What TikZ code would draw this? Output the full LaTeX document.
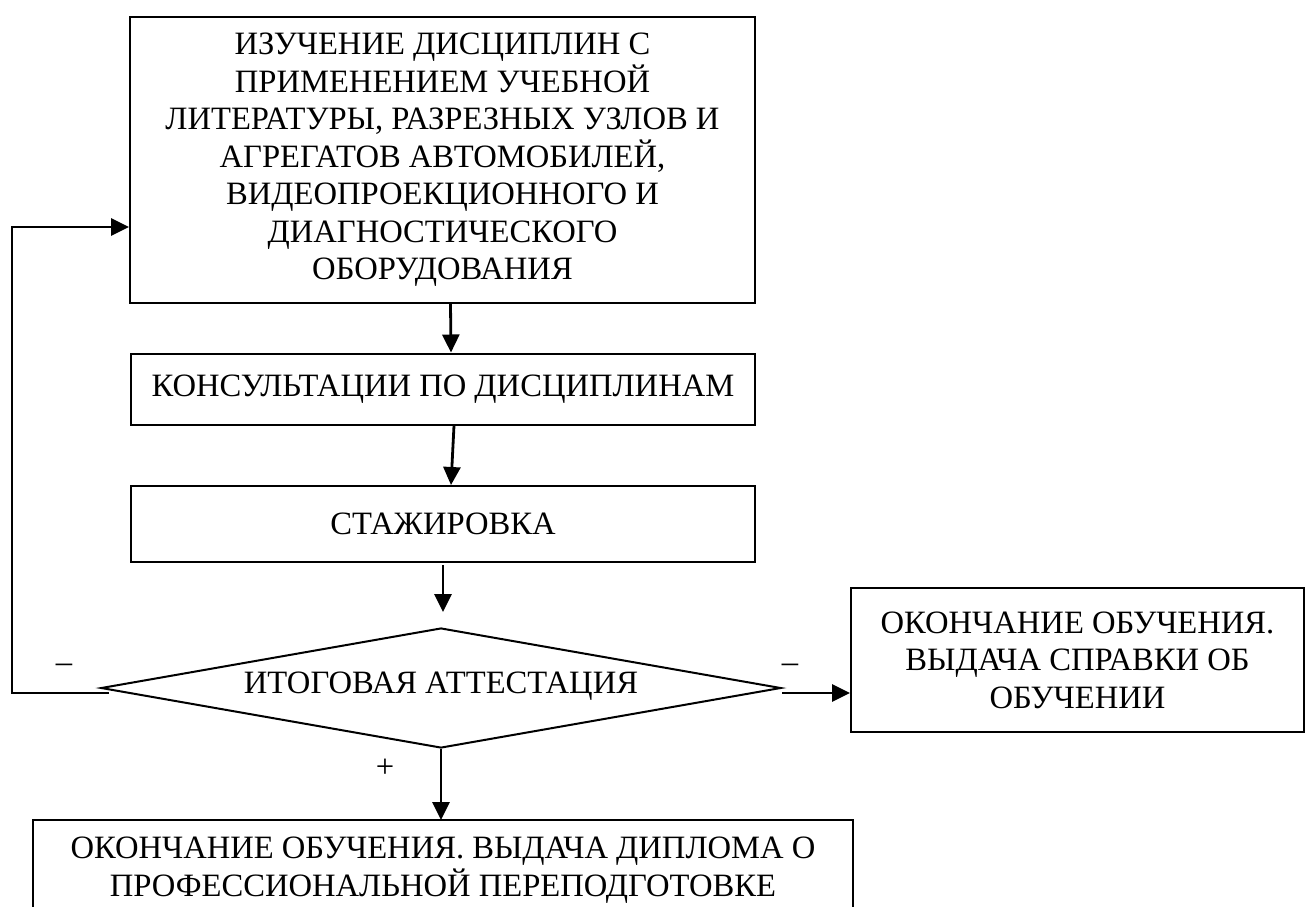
\documentclass[tikz,border=0pt]{standalone}
\usepackage{fontspec}
\setmainfont{Liberation Serif}
\usetikzlibrary{arrows.meta, shapes.geometric}

\tikzset{
	box/.style={draw, line width=1pt, align=center, inner sep=0pt},
	arr/.style={line width=1.4pt, -{Triangle[length=9pt, width=8.5pt]}},
}

\begin{document}
\begin{tikzpicture}[x=0.5pt, y=-0.5pt, font=\fontsize{16.3}{18.75}\selectfont]
	\useasboundingbox (0,0) rectangle (1305,906);
	
	\node[box, minimum width=312.5pt, minimum height=143pt] (s1) at (442.5,160)
		{ИЗУЧЕНИЕ ДИСЦИПЛИН С\\ПРИМЕНЕНИЕМ УЧЕБНОЙ\\ЛИТЕРАТУРЫ, РАЗРЕЗНЫХ УЗЛОВ И\\АГРЕГАТОВ АВТОМОБИЛЕЙ,\\ВИДЕОПРОЕКЦИОННОГО И\\ДИАГНОСТИЧЕСКОГО\\ОБОРУДОВАНИЯ};
	\node[box, minimum width=312pt, minimum height=35.5pt] (s2) at (443,389) {КОНСУЛЬТАЦИИ ПО ДИСЦИПЛИНАМ};
	\node[box, minimum width=312pt, minimum height=38pt] (s3) at (443,524) {СТАЖИРОВКА};
	\node[draw, line width=1pt, diamond, aspect=5.67, inner sep=0pt, minimum width=340pt, minimum height=60pt] (att) at (441,688) {\raisebox{5pt}{ИТОГОВАЯ АТТЕСТАЦИЯ}};
	\node[box, minimum width=226.5pt, minimum height=72pt] (sp) at (1077.5,660)
		{ОКОНЧАНИЕ ОБУЧЕНИЯ.\\ВЫДАЧА СПРАВКИ ОБ\\ОБУЧЕНИИ};
	\node[align=center, inner sep=0pt] (dp) at (443,870)
		{ОКОНЧАНИЕ ОБУЧЕНИЯ. ВЫДАЧА ДИПЛОМА О\\ПРОФЕССИОНАЛЬНОЙ ПЕРЕПОДГОТОВКЕ};
	\draw[line width=1pt] (33,910) |- (853,820) -- (853,910);
	
	\coordinate (fb) at (12,227);
	\coordinate (al) at ([shift={(9,5)}]att.west);
	\coordinate (ar) at ([shift={(0,5)}]att.east);
	\coordinate (at) at (443,612);
	\coordinate (dt) at (441,820);
	
	\draw[arr] ([xshift=4pt]s1.south) -- ([xshift=4pt]s2.north);
	\draw[arr] ([xshift=5.5pt]s2.south) -- ([xshift=4pt]s3.north);
	\draw[arr] (s3.south |- 0,565) -- (at);
	\draw[arr] (att.south) -- (dt);
	\draw[arr] (al) -| (fb) -- (fb -| s1.west);
	\draw[arr] (ar) -- (ar -| sp.west);
	
	\node at (64,668) {--};
	\node at (790,668) {--};
	\node at (385,768) {+};
\end{tikzpicture}
\end{document}
